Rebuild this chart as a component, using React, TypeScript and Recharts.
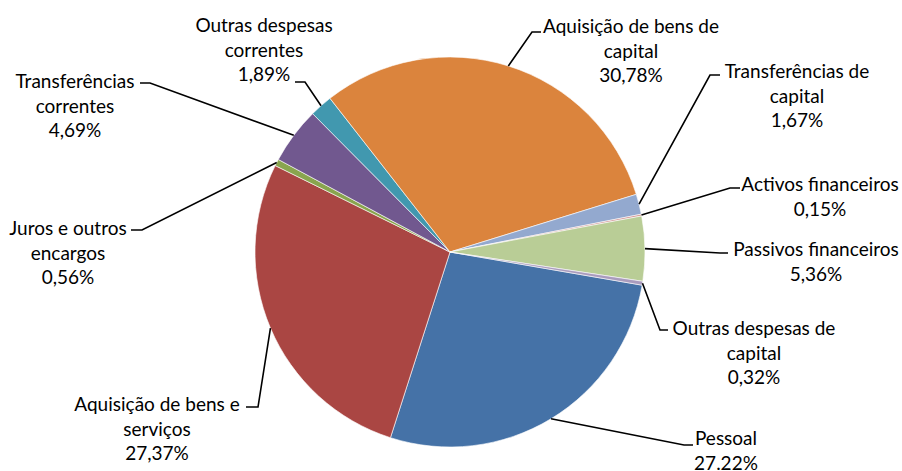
import { PieChart, Pie, Cell } from "recharts";

const categories = [
  "Pessoal",
  "Aquisição de bens e serviços",
  "Juros e outros encargos",
  "Transferências correntes",
  "Outras despesas correntes",
  "Aquisição de bens de capital",
  "Transferências de capital",
  "Activos financeiros",
  "Passivos financeiros",
  "Outras despesas de capital",
];
const shares = [27.22, 27.37, 0.56, 4.69, 1.89, 30.78, 1.67, 0.15, 5.36, 0.32];
const shareLabels = ["27.22%", "27,37%", "0,56%", "4,69%", "1,89%", "30,78%", "1,67%", "0,15%", "5,36%", "0,32%"];
const labelLines = [
  ["Pessoal"],
  ["Aquisição de bens e", "serviços"],
  ["Juros e outros", "encargos"],
  ["Transferências", "correntes"],
  ["Outras despesas", "correntes"],
  ["Aquisição de bens de", "capital"],
  ["Transferências de", "capital"],
  ["Activos financeiros"],
  ["Passivos financeiros"],
  ["Outras despesas de", "capital"],
];

const colors = [
  "#4572A7", "#AA4643", "#89A54E", "#71588F", "#4198AF",
  "#DB843D", "#93A9CF", "#D19392", "#B9CD96", "#A99BBD",
];

// label placement relative to the pie centre: text centre / first line y,
// end of the leader line, and horizontal elbow length
const labelPos = [
  { tx: 276, ty: 185, ex: 243, ey: 193, elbow: -9 },
  { tx: -293, ty: 151, ex: -204, ey: 155, elbow: 12 },
  { tx: -382, ty: -25, ex: -319, ey: -22, elbow: 11 },
  { tx: -375, ty: -172, ex: -310, ey: -169, elbow: 10 },
  { tx: -186, ty: -228, ex: -155, ey: -170, elbow: 10 },
  { tx: 181, ty: -227, ex: 91, ey: -220, elbow: -9 },
  { tx: 347, ty: -182, ex: 270, ey: -177, elbow: -10 },
  { tx: 370, ty: -69, ex: 290, ey: -64, elbow: -10 },
  { tx: 366, ty: -4, ex: 278, ey: 1, elbow: -8 },
  { tx: 304, ty: 75, ex: 218, ey: 78, elbow: -8 },
];

const data = categories.map((name, i) => ({ name, value: shares[i] }));

const FONT = "Lato, 'Open Sans', sans-serif";

const renderLabel = (props: any) => {
  const { cx, cy, midAngle, outerRadius, index } = props;
  const p = labelPos[index];
  const rad = (midAngle * Math.PI) / 180;
  const sx = cx + outerRadius * Math.cos(rad);
  const sy = cy - outerRadius * Math.sin(rad);
  const ex = cx + p.ex;
  const ey = cy + p.ey;
  const lines = [...labelLines[index], shareLabels[index]];
  return (
    <g key={`lbl-${index}`}>
      <polyline
        points={`${sx},${sy} ${ex + p.elbow},${ey} ${ex},${ey}`}
        fill="none"
        stroke="#000"
        strokeWidth={1.6}
      />
      <text
        x={cx + p.tx}
        y={cy + p.ty}
        textAnchor="middle"
        dominantBaseline="central"
        fontFamily={FONT}
        fontSize={19}
        fill="#000"
      >
        {lines.map((t, k) => (
          <tspan key={k} x={cx + p.tx} dy={k === 0 ? 0 : 24.5}>
            {t}
          </tspan>
        ))}
      </text>
    </g>
  );
};

export default function App() {
  return (
    <div style={{ position: "absolute", left: 0, top: 0, background: "#fff" }}>
      <PieChart width={902} height={471} margin={{ top: 0, right: 0, bottom: 0, left: 0 }}>
        <Pie
          data={data}
          dataKey="value"
          nameKey="name"
          cx={450}
          cy={252}
          outerRadius={195}
          startAngle={-9.8}
          endAngle={-369.8}
          stroke="#ffffff"
          strokeWidth={0.6}
          label={renderLabel}
          labelLine={false}
          isAnimationActive={false}
        >
          {data.map((d, i) => (
            <Cell key={d.name} fill={colors[i]} />
          ))}
        </Pie>
      </PieChart>
    </div>
  );
}
